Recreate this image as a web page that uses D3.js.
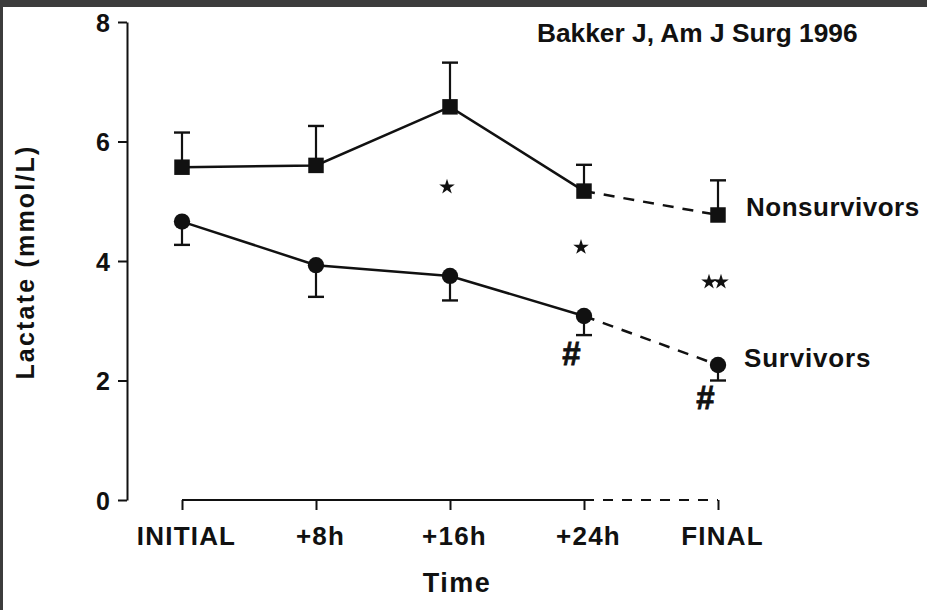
<!DOCTYPE html>
<html>
<head>
<meta charset="utf-8">
<script src="https://cdn.jsdelivr.net/npm/d3@7"></script>
<style>
  html, body { margin: 0; padding: 0; background: #ffffff; }
  svg { display: block; }
  text { font-family: "Liberation Sans", Arial, Helvetica, sans-serif; font-weight: bold; fill: #111; }
</style>
</head>
<body>
<svg id="chart" width="927" height="610"></svg>
<script>
// Blood lactate over time, survivors vs nonsurvivors (mean ± SEM)
const categories = ["INITIAL", "+8h", "+16h", "+24h", "FINAL"];
const nonsurvivorMean  = [5.57, 5.60, 6.58, 5.17, 4.77];
const nonsurvivorUpper = [6.15, 6.26, 7.32, 5.61, 5.35];
const survivorMean     = [4.66, 3.93, 3.75, 3.08, 2.26];
const survivorLower    = [4.27, 3.40, 3.34, 2.76, 2.00];
const yTicks = [0, 2, 4, 6, 8];
const seriesLabels = ["Nonsurvivors", "Survivors"];
// significance marks: category, value, symbol
const starMarks = [
  { cat: "+16h", value: 5.24, count: 1 },
  { cat: "+24h", value: 4.23, count: 1 },
  { cat: "FINAL", value: 3.65, count: 2 }
];
const hashMarks = [
  { cat: "+24h", value: 2.46 },
  { cat: "FINAL", value: 1.72 }
];
const titleText = "Bakker J, Am J Surg 1996";

const svg = d3.select("#chart");
const W = 927, H = 610;

// dark frame on top and left
svg.append("rect").attr("x", 0).attr("y", 0).attr("width", W).attr("height", H).attr("fill", "#ffffff");
svg.append("rect").attr("x", 0).attr("y", 0).attr("width", W).attr("height", 7).attr("fill", "#3c3c3c");
svg.append("rect").attr("x", 0).attr("y", 0).attr("width", 3).attr("height", H).attr("fill", "#3c3c3c");

const y = d3.scaleLinear().domain([0, 8]).range([500, 22]);
const x = d3.scalePoint().domain(categories).range([182, 718]);

const ink = "#111";

// y axis
const yAxis = svg.append("g")
  .attr("transform", "translate(127,0)")
  .call(d3.axisLeft(y).tickValues(yTicks).tickSize(9).tickSizeOuter(0).tickPadding(8));
yAxis.select(".domain").attr("stroke", ink).attr("stroke-width", 2);
yAxis.selectAll(".tick line").attr("stroke", ink).attr("stroke-width", 2);
yAxis.selectAll(".tick text")
  .attr("font-size", 25).attr("font-family", null).attr("fill", ink).attr("dy", "0.36em");

// x axis (baseline drawn separately: solid through +24h, dashed to FINAL)
const xAxis = svg.append("g")
  .attr("transform", "translate(0,500)")
  .call(d3.axisBottom(x).tickSize(10).tickSizeOuter(0).tickPadding(17));
xAxis.select(".domain").remove();
xAxis.selectAll(".tick line").attr("stroke", ink).attr("stroke-width", 2);
xAxis.selectAll(".tick text")
  .attr("font-size", 26).attr("font-family", null).attr("fill", ink)
  .attr("letter-spacing", 1.2)
  .attr("dx", 4).attr("dy", "0.71em");

const lastSolid = categories.indexOf("+24h");
svg.append("line")
  .attr("x1", x(categories[0])).attr("x2", x(categories[lastSolid]))
  .attr("y1", y(0)).attr("y2", y(0))
  .attr("stroke", ink).attr("stroke-width", 2);
svg.append("line")
  .attr("x1", x(categories[lastSolid])).attr("x2", x(categories[categories.length - 1]))
  .attr("y1", y(0)).attr("y2", y(0))
  .attr("stroke", ink).attr("stroke-width", 2).attr("stroke-dasharray", "10,9");

// axis titles
svg.append("text")
  .attr("transform", "translate(25,262) rotate(-90)")
  .attr("text-anchor", "middle").attr("dominant-baseline", "central")
  .attr("font-size", 25).attr("letter-spacing", 2.2)
  .text("Lactate (mmol/L)");
svg.append("text")
  .attr("x", 457).attr("y", 583)
  .attr("text-anchor", "middle").attr("dominant-baseline", "central")
  .attr("font-size", 27).attr("letter-spacing", 1.5)
  .text("Time");

// title
svg.append("text")
  .attr("x", 537).attr("y", 42)
  .attr("font-size", 26.3)
  .text(titleText);

function drawSeries(mean, bound, symbolType, symbolSize) {
  const pts = categories.map((c, i) => ({ c, i, v: mean[i], b: bound[i] }));
  const line = d3.line().x(d => x(d.c)).y(d => y(d.v));
  // error bars
  const eb = svg.append("g");
  eb.selectAll("line.stem").data(pts).join("line")
    .attr("x1", d => x(d.c)).attr("x2", d => x(d.c))
    .attr("y1", d => y(d.v)).attr("y2", d => y(d.b))
    .attr("stroke", ink).attr("stroke-width", 2.2);
  eb.selectAll("line.cap").data(pts).join("line")
    .attr("x1", d => x(d.c) - 8).attr("x2", d => x(d.c) + 8)
    .attr("y1", d => y(d.b)).attr("y2", d => y(d.b))
    .attr("stroke", ink).attr("stroke-width", 2.4);
  // connecting lines
  svg.append("path").datum(pts.slice(0, lastSolid + 1))
    .attr("d", line).attr("fill", "none").attr("stroke", ink).attr("stroke-width", 2.5);
  svg.append("path").datum(pts.slice(lastSolid))
    .attr("d", line).attr("fill", "none").attr("stroke", ink).attr("stroke-width", 2.5)
    .attr("stroke-dasharray", "11,9");
  // markers
  svg.append("g").selectAll("path").data(pts).join("path")
    .attr("transform", d => `translate(${x(d.c)},${y(d.v)})`)
    .attr("d", d3.symbol().type(symbolType).size(symbolSize))
    .attr("fill", ink);
  return pts;
}

drawSeries(nonsurvivorMean, nonsurvivorUpper, d3.symbolSquare, 240);
drawSeries(survivorMean, survivorLower, d3.symbolCircle, 210);

// series labels beside the last point
const lastCat = categories[categories.length - 1];
svg.append("text")
  .attr("x", x(lastCat) + 28).attr("y", y(nonsurvivorMean[4]) - 8)
  .attr("dominant-baseline", "central").attr("font-size", 26).attr("letter-spacing", 0.5)
  .text(seriesLabels[0]);
svg.append("text")
  .attr("x", x(lastCat) + 26).attr("y", y(survivorMean[4]) - 7)
  .attr("dominant-baseline", "central").attr("font-size", 26).attr("letter-spacing", 0.8)
  .text(seriesLabels[1]);

// significance stars
const star = d3.symbol().type(d3.symbolStar).size(75);
starMarks.forEach(m => {
  for (let k = 0; k < m.count; k++) {
    const off = (k - (m.count - 1) / 2) * 12;
    svg.append("path")
      .attr("transform", `translate(${x(m.cat) - 3 + off},${y(m.value)})`)
      .attr("d", star).attr("fill", ink);
  }
});
hashMarks.forEach(m => {
  svg.append("text")
    .attr("x", x(m.cat) - 13).attr("y", y(m.value))
    .attr("text-anchor", "middle").attr("dominant-baseline", "central")
    .attr("font-size", 33).attr("font-style", "italic")
    .attr("stroke", ink).attr("stroke-width", 0.8)
    .text("#");
});
</script>
</body>
</html>
